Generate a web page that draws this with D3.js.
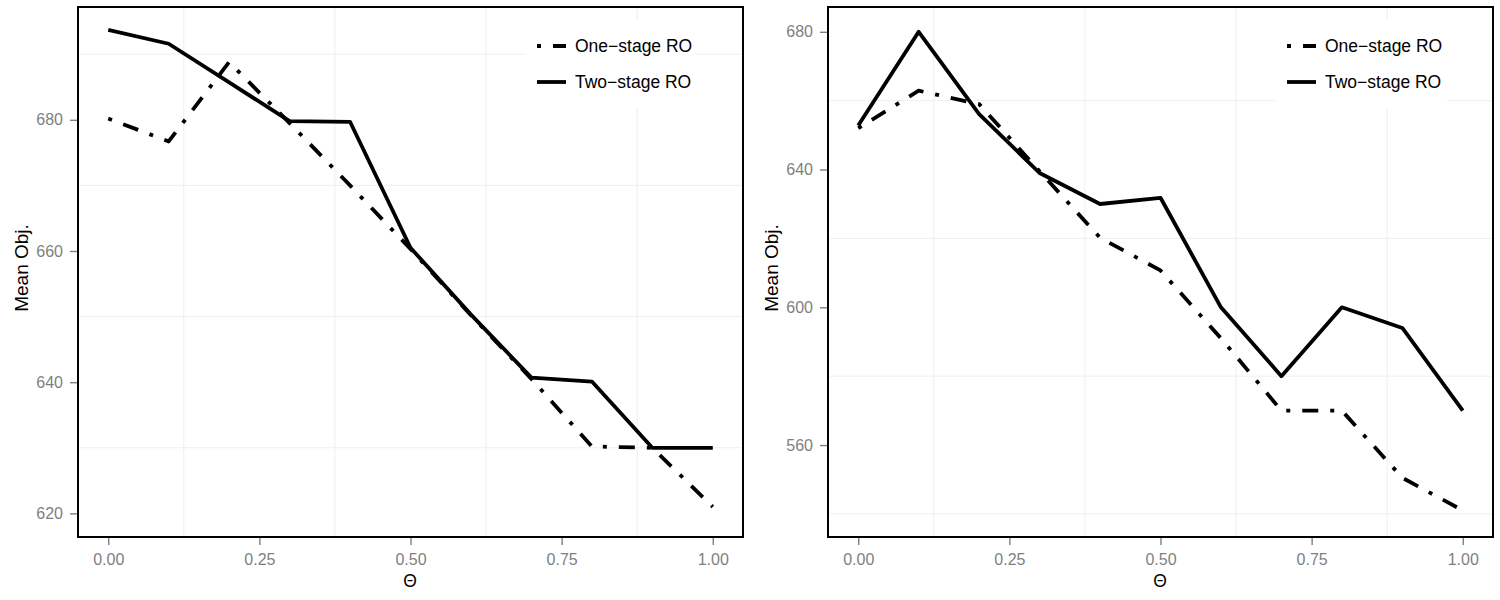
<!DOCTYPE html>
<html>
<head>
<meta charset="utf-8">
<script src="https://cdn.jsdelivr.net/npm/d3@7"></script>
<style>
    body { margin: 0; background: #fff; }
    svg { display: block; font-family: "Liberation Sans", Arial, sans-serif; }
</style>
</head>
<body>
<div id="chart"></div>
<script>
// Mean objective vs. Theta, two panels

const thetas = [0, 0.1, 0.2, 0.3, 0.4, 0.5, 0.6, 0.7, 0.8, 0.9, 1.0];
const seriesNames = ['One\u2212stage RO', 'Two\u2212stage RO'];

const leftOneStage = [680.2, 676.7, 688.8, 679.5, 670, 660.3, 650.2, 640.5, 630.2, 630, 621];
const leftTwoStage = [693.7, 691.6, 685.7, 679.8, 679.7, 660.5, 650.3, 640.7, 640.1, 630, 630];

const rightOneStage = [652, 662.9, 659, 639.5, 620.2, 610.7, 591, 570, 570, 550.5, 541];
const rightTwoStage = [652.8, 680, 656.1, 639, 630, 631.8, 600, 580, 600, 594, 570];

const xTicks = [0, 0.25, 0.5, 0.75, 1];
const leftYTicks = [620, 640, 660, 680];
const rightYTicks = [560, 600, 640, 680];

const width = 1500;
const height = 600;
const dotDash = '4,12,16,12';

const svg = d3.select('#chart').append('svg')
    .attr('width', width)
    .attr('height', height);

const panels = [
    { left: 78, one: leftOneStage, two: leftTwoStage, ticks: leftYTicks, domain: [616.4, 697.2] },
    { left: 828, one: rightOneStage, two: rightTwoStage, ticks: rightYTicks, domain: [533.3, 687.2] }
];

// Midpoints between ticks, extended one step each side (minor grid)
function minorTicks(ticks, domain) {
    const step = ticks[1] - ticks[0];
    const out = [];
    for (let v = ticks[0] - step / 2; v <= domain[1]; v += step) {
        if (v >= domain[0]) out.push(v);
    }
    return out;
}

function drawPanel(p) {
    const top = 7, bottom = 537, panelW = 665;
    const g = svg.append('g');

    const x = d3.scaleLinear().domain([-0.05, 1.05]).range([p.left, p.left + panelW]);
    const y = d3.scaleLinear().domain(p.domain).range([bottom, top]);

    // Minor grid
    g.append('g').selectAll('line.gx')
        .data(minorTicks(xTicks, [-0.05, 1.05]))
        .join('line')
        .attr('x1', d => x(d)).attr('x2', d => x(d))
        .attr('y1', top).attr('y2', bottom)
        .attr('stroke', '#efefef').attr('stroke-width', 1);

    g.append('g').selectAll('line.gy')
        .data(minorTicks(p.ticks, p.domain))
        .join('line')
        .attr('x1', p.left).attr('x2', p.left + panelW)
        .attr('y1', d => y(d)).attr('y2', d => y(d))
        .attr('stroke', '#efefef').attr('stroke-width', 1);

    // Legend box (covers grid)
    const boxX = p.left + panelW - 218;
    g.append('rect')
        .attr('x', boxX).attr('y', 20)
        .attr('width', 172).attr('height', 88)
        .attr('fill', '#fff');

    // Lines
    const line = d3.line()
        .x((d, i) => x(thetas[i]))
        .y(d => y(d));

    g.append('path')
        .datum(p.two)
        .attr('d', line)
        .attr('fill', 'none')
        .attr('stroke', '#000')
        .attr('stroke-width', 3.8)
        .attr('stroke-linejoin', 'round');

    g.append('path')
        .datum(p.one)
        .attr('d', line)
        .attr('fill', 'none')
        .attr('stroke', '#000')
        .attr('stroke-width', 3.8)
        .attr('stroke-linejoin', 'round')
        .attr('stroke-dasharray', dotDash);

    // Axes
    const xAxis = g.append('g')
        .attr('transform', `translate(0,${bottom})`)
        .call(d3.axisBottom(x).tickValues(xTicks).tickSize(8).tickPadding(9)
            .tickFormat(d3.format('.2f')));

    const yAxis = g.append('g')
        .attr('transform', `translate(${p.left},0)`)
        .call(d3.axisLeft(y).tickValues(p.ticks).tickSize(8).tickPadding(7));

    [xAxis, yAxis].forEach(a => {
        a.select('.domain').remove();
        a.selectAll('line').attr('stroke', '#7f7f7f').attr('stroke-width', 1.4);
        a.selectAll('text')
            .attr('fill', '#7f7f7f')
            .attr('font-size', '16px')
            .attr('font-family', '"Liberation Sans", Arial, sans-serif');
    });

    // Panel border
    g.append('rect')
        .attr('x', p.left).attr('y', top)
        .attr('width', panelW).attr('height', bottom - top)
        .attr('fill', 'none')
        .attr('stroke', '#000')
        .attr('stroke-width', 2);

    // Axis titles
    g.append('text')
        .attr('x', p.left + panelW / 2 - 0.5)
        .attr('y', 586.5)
        .attr('text-anchor', 'middle')
        .attr('font-size', '17.5px')
        .text('\u0398');

    g.append('text')
        .attr('transform', `translate(${p.left - 50},${(top + bottom) / 2 - 4}) rotate(-90)`)
        .attr('text-anchor', 'middle')
        .attr('font-size', '19px')
        .text('Mean Obj.');

    // Legend
    const keyX = boxX + 12;
    const rows = [46, 82];
    seriesNames.forEach((name, i) => {
        g.append('line')
            .attr('x1', keyX).attr('x2', keyX + 29)
            .attr('y1', rows[i]).attr('y2', rows[i])
            .attr('stroke', '#000')
            .attr('stroke-width', 3.8)
            .attr('stroke-dasharray', i === 0 ? dotDash : null);

        g.append('text')
            .attr('x', keyX + 38)
            .attr('y', rows[i])
            .attr('dy', '0.36em')
            .attr('font-size', '17.5px')
            .text(name);
    });
}

panels.forEach(drawPanel);
</script>
</body>
</html>
